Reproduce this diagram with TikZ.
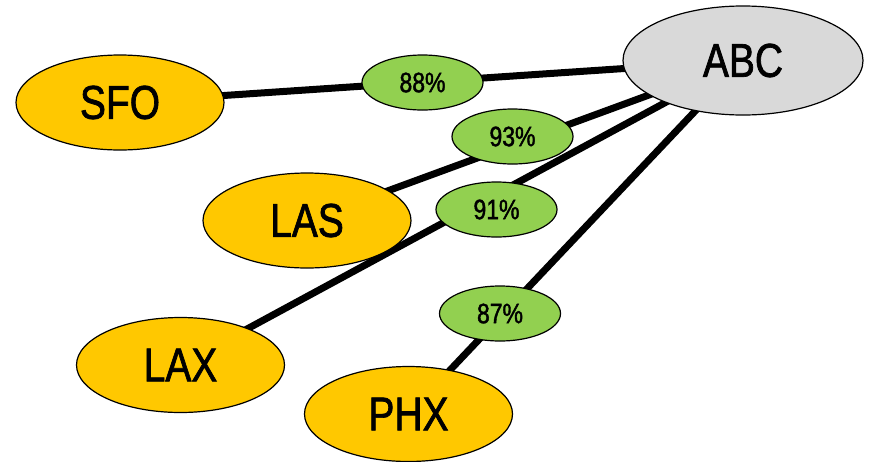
\documentclass[tikz,border=0pt]{standalone}
\usepackage{fontspec}
\setmainfont{Liberation Sans}[FakeStretch=0.82,FakeBold=1.5]
\usetikzlibrary{shapes.geometric,backgrounds}
\definecolor{airport}{RGB}{255,200,0}
\definecolor{hub}{RGB}{217,217,217}
\definecolor{rate}{RGB}{146,208,80}
\begin{document}
\begin{tikzpicture}[x=1pt,y=-1pt,
  hubnode/.style={ellipse, draw=black, line width=1.2pt, fill=hub, inner sep=0pt,
    minimum width=240pt, minimum height=109pt, font=\fontsize{47.5}{50}\selectfont},
  portnode/.style={ellipse, draw=black, line width=1.2pt, fill=airport, inner sep=0pt,
    minimum width=208pt, minimum height=95pt, font=\fontsize{47.5}{50}\selectfont},
  ratenode/.style={ellipse, draw=black, line width=1.2pt, fill=rate, inner sep=0pt,
    minimum width=121pt, minimum height=55pt, font=\fontsize{28}{30}\selectfont},
  link/.style={black, line width=7pt}]

\useasboundingbox (0,0) rectangle (869,461);

% Hub
\node[hubnode] (abc) at (743,60.5) {ABC};

% Airports
\node[portnode] (sfo) at (120,102.5) {SFO};
\node[portnode] (las) at (307,220.5) {LAS};
\node[portnode] (lax) at (180.5,365) {LAX};
\node[portnode] (phx) at (408.5,414) {PHX};

% Links
\begin{scope}[on background layer]
\draw[link] (sfo.center) -- (abc.center);
\draw[link] (las.center) -- (abc.center);
\draw[link] (lax.center) -- (abc.center);
\draw[link] (phx.center) -- (abc.center);
\end{scope}

% Rates
\node[ratenode] (r88) at (422.5,82.5) {88\%};
\node[ratenode] (r93) at (512.5,136.5) {93\%};
\node[ratenode] (r91) at (496.5,209.5) {91\%};
\node[ratenode] (r87) at (500,313.5) {87\%};

\end{tikzpicture}
\end{document}
